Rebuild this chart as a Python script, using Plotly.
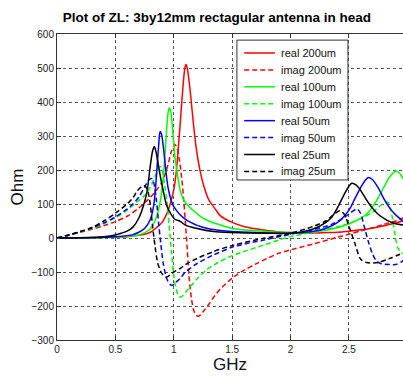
import plotly.graph_objects as go

# Frequency samples (GHz) and load impedance (Ohm) for each trace width
f_real200 = [0, 0.2, 0.4, 0.5, 0.6, 0.7, 0.75, 0.8, 0.85, 0.9, 0.95, 1.0, 1.02, 1.04, 1.06, 1.08, 1.095,
             1.105, 1.115, 1.13, 1.15, 1.17, 1.19, 1.21, 1.23, 1.26, 1.3, 1.35, 1.4, 1.5, 1.6, 1.7, 1.8,
             1.9, 2.0, 2.1, 2.2, 2.3, 2.4, 2.5, 2.6, 2.7, 2.8, 2.9, 2.97]
z_real200 = [0, 0.5, 1.5, 2.5, 4, 8, 11, 17, 30, 46, 80, 142, 190, 270, 360, 450, 500,
             510, 500, 465, 400, 330, 270, 225, 190, 150, 112, 88, 65, 46, 34, 27, 22,
             18, 16, 15, 15, 16, 17, 20, 24, 29, 36, 44, 52]

f_imag200 = [0, 0.1, 0.2, 0.3, 0.4, 0.5, 0.6, 0.7, 0.8, 0.85, 0.9, 0.95, 0.98, 1.01, 1.03, 1.05, 1.07,
             1.09, 1.1, 1.115, 1.13, 1.15, 1.17, 1.19, 1.21, 1.23, 1.26, 1.3, 1.35, 1.4, 1.5, 1.6, 1.7,
             1.8, 1.9, 2.0, 2.2, 2.4, 2.5, 2.6, 2.7, 2.8, 2.9, 2.97]
z_imag200 = [0, 8, 17, 26, 36, 48, 64, 88, 120, 140, 165, 215, 255, 275, 262, 225, 170,
             90, 43, -30, -110, -175, -212, -227, -230, -226, -213, -195, -170, -150, -118, -95, -77,
             -60, -45, -35, -17, 2, 11, 21, 30, 40, 50, 60]

f_real100 = [0, 0.2, 0.4, 0.5, 0.6, 0.7, 0.75, 0.8, 0.85, 0.88, 0.9, 0.92, 0.935, 0.95, 0.962, 0.975,
             0.99, 1.0, 1.01, 1.03, 1.055, 1.08, 1.11, 1.17, 1.23, 1.3, 1.4, 1.5, 1.6, 1.8, 2.0, 2.2,
             2.3, 2.4, 2.5, 2.6, 2.65, 2.7, 2.75, 2.8, 2.85, 2.9, 2.93, 2.97]
z_real100 = [0, 0.5, 1.5, 3, 5, 9, 15, 27, 60, 100, 145, 220, 300, 365, 383, 370,
             320, 280, 240, 190, 140, 115, 100, 80, 63, 50, 38, 28, 24, 19, 16, 18,
             23, 30, 42, 58, 70, 90, 118, 150, 180, 196, 192, 170]

f_imag100 = [0, 0.1, 0.2, 0.3, 0.4, 0.5, 0.6, 0.7, 0.75, 0.8, 0.85, 0.88, 0.9, 0.92, 0.94, 0.96,
             0.98, 1.0, 1.02, 1.045, 1.065, 1.1, 1.15, 1.2, 1.28, 1.35, 1.48, 1.6, 1.77, 1.9, 2.0,
             2.2, 2.4, 2.5, 2.6, 2.7, 2.78, 2.83, 2.86, 2.89, 2.92, 2.97]
z_imag100 = [0, 8, 18, 28, 42, 60, 82, 110, 125, 150, 190, 210, 200, 160, 112, 40,
             -40, -110, -150, -172, -173, -160, -140, -120, -94, -78, -55, -40, -21, -6, 4,
             17, 33, 43, 57, 75, 98, 106, 80, 20, -30, -48]

f_real50 = [0, 0.2, 0.4, 0.5, 0.6, 0.65, 0.7, 0.75, 0.8, 0.83, 0.85, 0.87, 0.883, 0.895, 0.91, 0.93,
            0.95, 0.98, 1.0, 1.05, 1.1, 1.15, 1.2, 1.3, 1.4, 1.5, 1.7, 2.0, 2.2, 2.3, 2.4, 2.5,
            2.55, 2.6, 2.64, 2.668, 2.7, 2.75, 2.8, 2.85, 2.9, 2.97]
z_real50 = [0, 0.5, 2, 4, 7, 10, 17, 28, 55, 100, 175, 270, 313, 305, 270, 205,
            150, 108, 92, 70, 55, 45, 37, 27, 22, 19, 16, 14, 20, 28, 45, 82,
            115, 148, 170, 178, 172, 148, 115, 88, 68, 48]

f_imag50 = [0, 0.1, 0.2, 0.3, 0.4, 0.5, 0.6, 0.65, 0.7, 0.75, 0.79, 0.81, 0.83, 0.85, 0.87, 0.89,
            0.91, 0.94, 0.97, 0.99, 1.02, 1.054, 1.1, 1.2, 1.34, 1.51, 1.77, 2.0, 2.2, 2.35, 2.45,
            2.52, 2.57, 2.6, 2.63, 2.67, 2.7, 2.73, 2.77, 2.85, 2.9, 2.95, 2.97]
z_imag50 = [0, 9, 19, 30, 44, 62, 85, 100, 120, 150, 172, 175, 160, 115, 45, -20,
            -75, -120, -137, -139, -130, -119, -100, -75, -50, -26, -6, 11, 25, 40, 58,
            76, 85, 72, 35, -15, -45, -65, -75, -78, -78, -70, -65]

f_real25 = [0, 0.2, 0.4, 0.5, 0.55, 0.6, 0.65, 0.7, 0.74, 0.77, 0.8, 0.82, 0.834, 0.85, 0.87, 0.9,
            0.94, 0.98, 1.01, 1.05, 1.1, 1.2, 1.34, 1.5, 1.8, 2.0, 2.1, 2.2, 2.3, 2.35, 2.4, 2.45,
            2.5, 2.525, 2.56, 2.6, 2.65, 2.7, 2.75, 2.8, 2.85, 2.9, 2.97]
z_real25 = [0, 1, 4, 9, 14, 20, 32, 58, 95, 135, 215, 258, 269, 250, 210, 155,
            95, 68, 55, 50, 38, 28, 19, 16, 14, 14, 18, 27, 45, 60, 88, 122,
            152, 161, 156, 140, 112, 88, 70, 58, 48, 42, 38]

f_imag25 = [0, 0.1, 0.2, 0.3, 0.4, 0.5, 0.6, 0.65, 0.69, 0.73, 0.755, 0.78, 0.8, 0.82, 0.84, 0.86,
            0.89, 0.92, 0.94, 0.97, 1.0, 1.054, 1.1, 1.2, 1.34, 1.51, 1.77, 2.0, 2.2, 2.3, 2.38,
            2.425, 2.46, 2.5, 2.55, 2.6, 2.65, 2.75, 2.85, 2.97]
z_imag25 = [0, 9, 19, 31, 50, 73, 100, 118, 140, 152, 153, 135, 95, 30, -25, -70,
            -100, -113, -115, -108, -100, -90, -78, -60, -40, -21, -1, 14, 35, 50, 72,
            80, 70, 35, -15, -62, -72, -72, -60, -43]

series = [
    ("real 200um", f_real200, z_real200, "#ff0000", "solid"),
    ("imag 200um", f_imag200, z_imag200, "#ff0000", "5px,3px"),
    ("real 100um", f_real100, z_real100, "#00ff00", "solid"),
    ("imag 100um", f_imag100, z_imag100, "#00ff00", "5px,3px"),
    ("real 50um", f_real50, z_real50, "#0000ff", "solid"),
    ("imag 50um", f_imag50, z_imag50, "#0000ff", "5px,3px"),
    ("real 25um", f_real25, z_real25, "#000000", "solid"),
    ("imag 25um", f_imag25, z_imag25, "#000000", "5px,3px"),
]

x_ticks = [0, 0.5, 1, 1.5, 2, 2.5]
x_tick_text = ["0", "0.5", "1", "1.5", "2", "2.5"]
y_ticks = [-300, -200, -100, 0, 100, 200, 300, 400, 500, 600]

FONT = "Liberation Sans, Arial, sans-serif"

fig = go.Figure()
for name, f, z, color, dash in series:
    fig.add_trace(go.Scatter(
        x=f, y=z, name=name, mode="lines", showlegend=False,
        line=dict(color=color, width=1.5, dash=dash, shape="spline", smoothing=0.8),
    ))

# Compact boxed legend in the upper right of the axes (paper coordinates)
leg_x0, leg_x1, leg_top, leg_bottom = 0.520, 0.841, 0.980, 0.523
row_top, row_step = 0.938, 0.0553
line_x0, line_x1, text_x = 0.541, 0.630, 0.641
fig.add_shape(type="rect", xref="paper", yref="paper",
              x0=leg_x0, x1=leg_x1, y0=leg_bottom, y1=leg_top,
              line=dict(color="#333333", width=1), fillcolor="white", layer="above")
for i, (name, f, z, color, dash) in enumerate(series):
    yy = row_top - i * row_step
    fig.add_shape(type="line", xref="paper", yref="paper",
                  x0=line_x0, x1=line_x1, y0=yy, y1=yy,
                  line=dict(color=color, width=1.5, dash=dash), layer="above")
    fig.add_annotation(x=text_x, y=yy, xref="paper", yref="paper", text=name,
                       showarrow=False, xanchor="left", yanchor="middle",
                       font=dict(family=FONT, size=11, color="#111111"))

axis_font = dict(family=FONT, size=10, color="#222222")

fig.update_layout(
    width=403, height=378,
    margin=dict(l=57, r=0, t=34, b=38),
    paper_bgcolor="white", plot_bgcolor="white",
    title=dict(
        text="<b>Plot of ZL: 3by12mm rectagular antenna in head</b>",
        font=dict(family=FONT, size=13.5, color="black"),
        x=0.462, xref="paper", xanchor="center", y=0.955, yref="container", yanchor="middle",
    ),
    showlegend=False,
)

fig.update_xaxes(
    range=[0, 2.963], tickvals=x_ticks, ticktext=x_tick_text,
    showline=True, linecolor="#333333", linewidth=1, mirror="ticks",
    ticks="inside", ticklen=4, tickcolor="#333333",
    showgrid=True, gridcolor="#555555", griddash="dot", gridwidth=1,
    zeroline=False, tickfont=axis_font,
    title=dict(text="GHz", font=dict(family=FONT, size=17, color="#111111"), standoff=4),
)
fig.update_yaxes(
    range=[-300, 600], tickvals=y_ticks,
    showline=True, linecolor="#333333", linewidth=1,
    ticks="inside", ticklen=4, tickcolor="#333333",
    showgrid=True, gridcolor="#555555", griddash="dot", gridwidth=1,
    zeroline=False, tickfont=axis_font,
    title=dict(text="Ohm", font=dict(family=FONT, size=17, color="#111111"), standoff=3),
)

fig.write_html("out.html")
